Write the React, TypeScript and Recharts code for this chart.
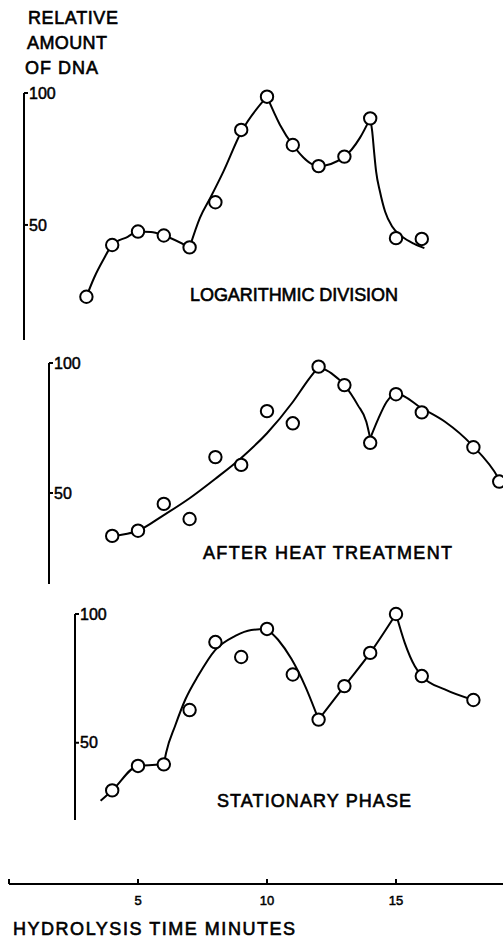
import React from 'react';
import { ComposedChart, Line, Scatter, XAxis, YAxis } from 'recharts';

// ---------- data ----------
// Logarithmic division
const LOG_MINUTES = [3, 4, 5, 6, 7, 8, 9, 10, 11, 12, 13, 14, 15, 16];
const LOG_DNA = [22.8, 42.4, 47.5, 46, 41.5, 58.6, 86, 98.6, 80.3, 72.3, 75.9, 90.4, 45, 44.7];
const LOG_CURVE: number[][][] = [
  [[3, 22.8], [3.3, 30], [3.65, 36.7], [4, 42.4], [4.6, 45.5], [5, 47.5], [5.5, 47.3], [6, 46], [7, 41.5]],
  [[7, 41.5], [7.4, 52.7], [7.8, 60.2], [8.3, 70], [9, 85.2], [10, 98.6]],
  [[10, 98.6], [10.5, 88], [11, 80.3], [12, 72.3], [13, 75.9], [13.6, 83], [14, 90.4]],
  [[14, 90.4], [14.08, 85.3], [14.15, 77.8], [14.23, 70.2], [14.38, 62.6], [14.58, 55], [14.85, 49.4], [15.23, 45.6], [15.71, 42.8], [16.1, 41.2]],
];

// After heat treatment
const HEAT_MINUTES = [4, 5, 6, 7, 8, 9, 10, 11, 12, 13, 14, 15, 16, 18, 19];
const HEAT_DNA = [33.5, 35.5, 45.8, 40, 63.8, 60.8, 81.5, 76.8, 98.6, 91.5, 69.3, 88, 81, 67.6, 54.4];
const HEAT_CURVE: number[][][] = [
  [[4, 33.5], [5, 35.5], [6, 41.5], [7, 48], [8, 55.5], [9, 63.5], [10, 73], [11, 85], [11.6, 93.5], [12, 98.6]],
  [[12, 98.6], [12.5, 96], [13, 91.5], [13.52, 83.8], [13.85, 77.4], [14, 71]],
  [[14, 71], [14.32, 78.7], [14.64, 85.1], [15, 88.3], [16, 82.6], [16.9, 77.4], [17.94, 68.5], [18.97, 55.7], [19.14, 52.5]],
];

// Stationary phase
const STAT_MINUTES = [4, 5, 6, 7, 8, 9, 10, 11, 12, 13, 14, 15, 16, 18];
const STAT_DNA = [31.5, 41, 41.6, 62.7, 89.1, 83.3, 94.2, 76.5, 59, 72, 84.9, 100, 75.9, 66.6];
const STAT_CURVE: number[][][] = [
  [[3.55, 27.5], [4, 31.5], [5, 41], [6, 41.6]],
  [[6, 41.6], [6.09, 46.1], [6.44, 56.6], [6.83, 66.7], [7.33, 76], [7.99, 86], [8.77, 91.5], [9.39, 93.8], [10, 94.2]],
  [[10, 94.2], [10.43, 90], [10.95, 82.5], [11.47, 72.2], [12, 59]],
  [[12, 59], [13, 72], [14, 84.9], [15, 100]],
  [[15, 100], [15.34, 88.8], [15.73, 79.7], [16, 75.9], [16.89, 70.7], [18, 66.6]],
];

const Y_TICKS = [50, 100];
const X_TICKS = [0, 5, 10, 15];
const X_TICK_LABELS = ['', '5', '10', '15'];

const Y_TITLE = ['RELATIVE', 'AMOUNT', 'OF DNA'];
const PANEL_LABELS = ['LOGARITHMIC DIVISION', 'AFTER HEAT TREATMENT', 'STATIONARY PHASE'];
const X_TITLE = 'HYDROLYSIS TIME MINUTES';

// ---------- layout ----------
const W = 503;
const H = 938;
const X0 = 9; // pixel of minute 0
const PX_PER_MIN = 25.8;
const T_END = (W - X0) / PX_PER_MIN;
const FONT = '"Liberation Sans", Arial, Helvetica, sans-serif';

const toPts = (ts: number[], vs: number[]) => ts.map((t, i) => ({ t, v: vs[i] }));
const toCurve = (knots: number[][]) => knots.map(([t, v]) => ({ t, v }));

const Ring = (props: any) => {
  const { cx, cy } = props;
  if (cx == null || cy == null) return null;
  return <circle cx={cx} cy={cy} r={6.2} fill="#fff" stroke="#000" strokeWidth={2} />;
};
const NoShape = () => null;

type PanelProps = {
  top: number;
  height: number;
  axisX: number;
  plotTop: number;
  plotBottom: number;
  yMin: number;
  minutes: number[];
  values: number[];
  curves: number[][][];
};

function Panel({ top, height, axisX, plotTop, plotBottom, yMin, minutes, values, curves }: PanelProps) {
  const tStart = (axisX - X0) / PX_PER_MIN;
  const pts = toPts(minutes, values);
  return (
    <div style={{ position: 'absolute', left: 0, top, width: W, height }}>
      <ComposedChart
        width={W}
        height={height}
        margin={{ top: plotTop, right: 0, bottom: height - plotBottom, left: axisX }}
      >
        <XAxis type="number" dataKey="t" domain={[tStart, T_END]} hide />
        <YAxis
          type="number"
          dataKey="v"
          domain={[yMin, 100]}
          ticks={Y_TICKS}
          interval={0}
          mirror
          tickSize={4}
          tickMargin={1}
          axisLine={{ stroke: '#000', strokeWidth: 2 }}
          tickLine={{ stroke: '#000', strokeWidth: 2 }}
          tick={{ fill: '#000', fontSize: 16, fontFamily: FONT, stroke: '#000', strokeWidth: 0.5 }}
        />
        {curves.map((c, i) => (
          <Line
            key={i}
            data={toCurve(c)}
            dataKey="v"
            type="monotone"
            stroke="#000"
            strokeWidth={2}
            dot={false}
            activeDot={false}
            isAnimationActive={false}
          />
        ))}
        <Scatter data={pts} dataKey="v" shape={Ring} isAnimationActive={false} />
      </ComposedChart>
    </div>
  );
}

const XTick = (props: any) => {
  const { x, y, payload } = props;
  const label = X_TICK_LABELS[X_TICKS.indexOf(payload?.value)] ?? '';
  return (
    <g>
      <line x1={x} x2={x} y1={y} y2={y - 5} stroke="#000" strokeWidth={2} />
      {label ? (
        <text
          x={x}
          y={y + 21}
          textAnchor="middle"
          fontSize={13}
          fontFamily={FONT}
          fill="#000"
          stroke="#000"
          strokeWidth={0.5}
        >
          {label}
        </text>
      ) : null}
    </g>
  );
};

const textStyle = {
  fontFamily: FONT,
  fontSize: 18,
  fill: '#000',
  stroke: '#000',
  strokeWidth: 0.6,
} as const;

export default function App() {
  const axisAnchors = X_TICKS.map((t) => ({ t, v: 0 }));
  return (
    <div style={{ position: 'absolute', left: 0, top: 0, width: W, height: H, background: '#fff', overflow: 'hidden' }}>
      <Panel
        top={0}
        height={350}
        axisX={24}
        plotTop={93}
        plotBottom={340}
        yMin={6.4}
        minutes={LOG_MINUTES}
        values={LOG_DNA}
        curves={LOG_CURVE}
      />
      <Panel
        top={350}
        height={250}
        axisX={49}
        plotTop={13}
        plotBottom={234}
        yMin={15}
        minutes={HEAT_MINUTES}
        values={HEAT_DNA}
        curves={HEAT_CURVE}
      />
      <Panel
        top={600}
        height={230}
        axisX={75}
        plotTop={14}
        plotBottom={220}
        yMin={20}
        minutes={STAT_MINUTES}
        values={STAT_DNA}
        curves={STAT_CURVE}
      />
      <div style={{ position: 'absolute', left: 0, top: 860, width: W, height: 78 }}>
        <ComposedChart width={W} height={78} margin={{ top: 0, right: 0, bottom: 0, left: X0 }}>
          <XAxis
            type="number"
            dataKey="t"
            domain={[0, T_END]}
            ticks={X_TICKS}
            interval={0}
            height={54}
            tickSize={0}
            tickMargin={0}
            axisLine={{ stroke: '#000', strokeWidth: 2 }}
            tickLine={false}
            tick={(p: any) => <XTick {...p} />}
          />
          <YAxis hide type="number" dataKey="v" domain={[0, 1]} />
          <Scatter data={axisAnchors} dataKey="v" shape={NoShape} isAnimationActive={false} />
        </ComposedChart>
      </div>
      <svg width={W} height={H} style={{ position: 'absolute', left: 0, top: 0, pointerEvents: 'none' }}>
        <text x={28} y={23.5} textLength={90} lengthAdjust="spacing" {...textStyle}>{Y_TITLE[0]}</text>
        <text x={27} y={48.5} textLength={80} lengthAdjust="spacing" {...textStyle}>{Y_TITLE[1]}</text>
        <text x={25} y={73.5} textLength={73} lengthAdjust="spacing" {...textStyle}>{Y_TITLE[2]}</text>
        <text x={190} y={301} textLength={208} lengthAdjust="spacing" {...textStyle}>{PANEL_LABELS[0]}</text>
        <text x={203} y={559} textLength={249} lengthAdjust="spacing" {...textStyle}>{PANEL_LABELS[1]}</text>
        <text x={217} y={807} textLength={194} lengthAdjust="spacing" {...textStyle}>{PANEL_LABELS[2]}</text>
        <text x={13} y={934.5} textLength={282} lengthAdjust="spacing" {...textStyle}>{X_TITLE}</text>
      </svg>
    </div>
  );
}
